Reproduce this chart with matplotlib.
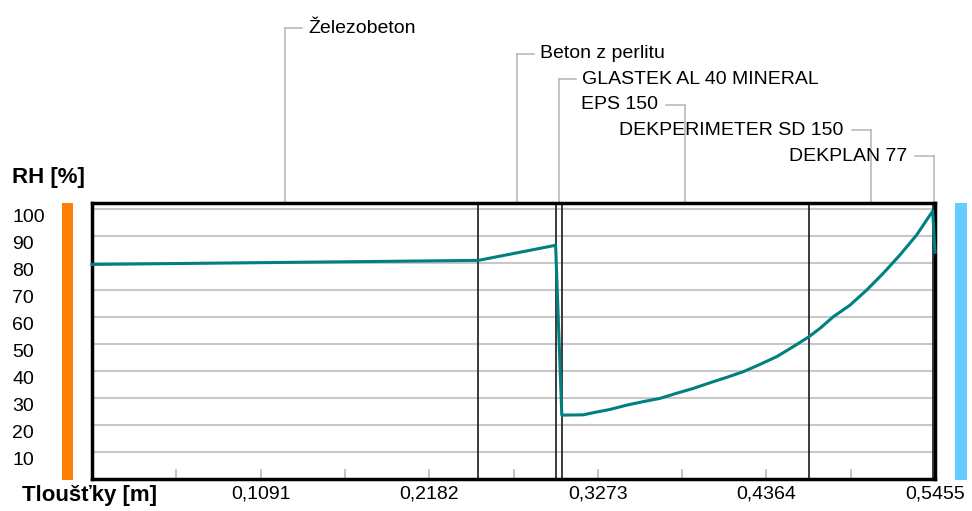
import matplotlib
matplotlib.use("Agg")
import matplotlib.pyplot as plt
from matplotlib.patches import Rectangle
from matplotlib import transforms
import numpy as np

plt.rcParams["font.family"] = ["Liberation Sans", "DejaVu Sans"]

# Layer build-up of the roof (inside -> outside), thickness in metres
layers = ["Železobeton", "Beton z perlitu", "GLASTEK AL 40 MINERAL",
          "EPS 150", "DEKPERIMETER SD 150", "DEKPLAN 77"]
thickness = [0.25, 0.05, 0.004, 0.16, 0.08, 0.0015]

# Relative humidity profile through the construction
depth = [0.0, 0.25, 0.30, 0.304, 0.3179, 0.3244, 0.3352, 0.3460, 0.3567,
         0.3675, 0.3783, 0.3891, 0.3999, 0.4107, 0.4214, 0.4322, 0.4431,
         0.4538, 0.464, 0.4711, 0.4797, 0.4905, 0.5013, 0.5120, 0.5228,
         0.5336, 0.544, 0.5455]
rh = [79.6, 81.1, 86.7, 23.7, 23.8, 24.6, 25.8, 27.4, 28.7,
      29.9, 31.8, 33.6, 35.7, 37.7, 39.8, 42.5, 45.4,
      49.1, 52.8, 55.9, 60.2, 64.5, 70.1, 76.3, 83.1,
      90.5, 99.4, 84.1]

y_ticks = [10, 20, 30, 40, 50, 60, 70, 80, 90, 100]
x_ticks = [0.1091, 0.2182, 0.3273, 0.4364, 0.5455]
x_tick_labels = ["0,1091", "0,2182", "0,3273", "0,4364", "0,5455"]

FS = 14
W, H = 972, 511
fig = plt.figure(figsize=(W / 100, H / 100), dpi=100)
ax = fig.add_axes([92 / W, 32 / H, 843 / W, 275.5 / H])

bounds = np.cumsum(thickness)
total = bounds[-1]
mids = bounds - np.array(thickness) / 2
ax.set_xlim(0, total)
ax.set_ylim(0, 102.2)

# horizontal grid
for v in y_ticks:
    ax.axhline(v, color="#c8c8c8", lw=1.5, zorder=1)

# x ticks: labelled majors, unlabelled minors halfway between
minor = [(a + b) / 2 for a, b in zip([0.0] + x_ticks[:-1], x_ticks)]
ax.set_xticks(x_ticks)
ax.set_xticklabels(x_tick_labels)
ax.set_xticks(minor, minor=True)
ax.tick_params(axis="x", which="both", direction="in", length=7.5,
               width=1.1, color="#b4b4b4", pad=5, labelsize=FS)
ax.tick_params(top=False)

ax.set_yticks(y_ticks)
ax.set_yticklabels([str(v) for v in y_ticks])
ax.tick_params(axis="y", length=0, pad=80 * 72 / 100, labelsize=FS)
for lab in ax.get_yticklabels():
    lab.set_horizontalalignment("left")
    lab.set_verticalalignment("top")

for s in ax.spines.values():
    s.set_linewidth(2.5)
    s.set_color("black")
    s.set_zorder(3)

# layer interfaces
for b in bounds[:-1]:
    ax.axvline(b, color="#1a1a1a", lw=1.2, zorder=2)

# RH curve
ax.plot(depth, rh, color="#008080", lw=2.2, zorder=5, clip_on=False)

# interior / exterior side markers
ax.add_patch(Rectangle((-30 / 843, -1 / 275.5), 11 / 843, 277 / 275.5,
                       transform=ax.transAxes, color="#ff8000",
                       clip_on=False, lw=0))
ax.add_patch(Rectangle((863 / 843, -1 / 275.5), 12 / 843, 277 / 275.5,
                       transform=ax.transAxes, color="#66ccff",
                       clip_on=False, lw=0))

# layer name callouts
trans = transforms.blended_transform_factory(ax.transData, ax.transAxes)
px = total / 843
lead = "#b4b4b4"
for i, (name, m) in enumerate(zip(layers, mids)):
    row = 1.637 - 0.093 * i
    ax.plot([m, m], [1.0, row], transform=trans, color=lead, lw=1.1,
            clip_on=False, zorder=1)
    if i < 3:
        ax.plot([m, m + 17 * px], [row, row], transform=trans, color=lead,
                lw=1.1, clip_on=False)
        ax.text(m + 23 * px, row, name, transform=trans, ha="left",
                va="center", fontsize=FS)
    else:
        ax.plot([m - 19 * px, m], [row, row], transform=trans, color=lead,
                lw=1.1, clip_on=False)
        ax.text(m - 27 * px, row, name, transform=trans, ha="right",
                va="center", fontsize=FS)

fig.text(12 / W, 1 - 177 / H, "RH [%]", ha="left", va="center",
         fontsize=16, fontweight="bold")
fig.text(22 / W, 1 - 495 / H, "Tloušťky [m]", ha="left", va="center",
         fontsize=16, fontweight="bold")

fig.savefig("out.png", dpi=100)
